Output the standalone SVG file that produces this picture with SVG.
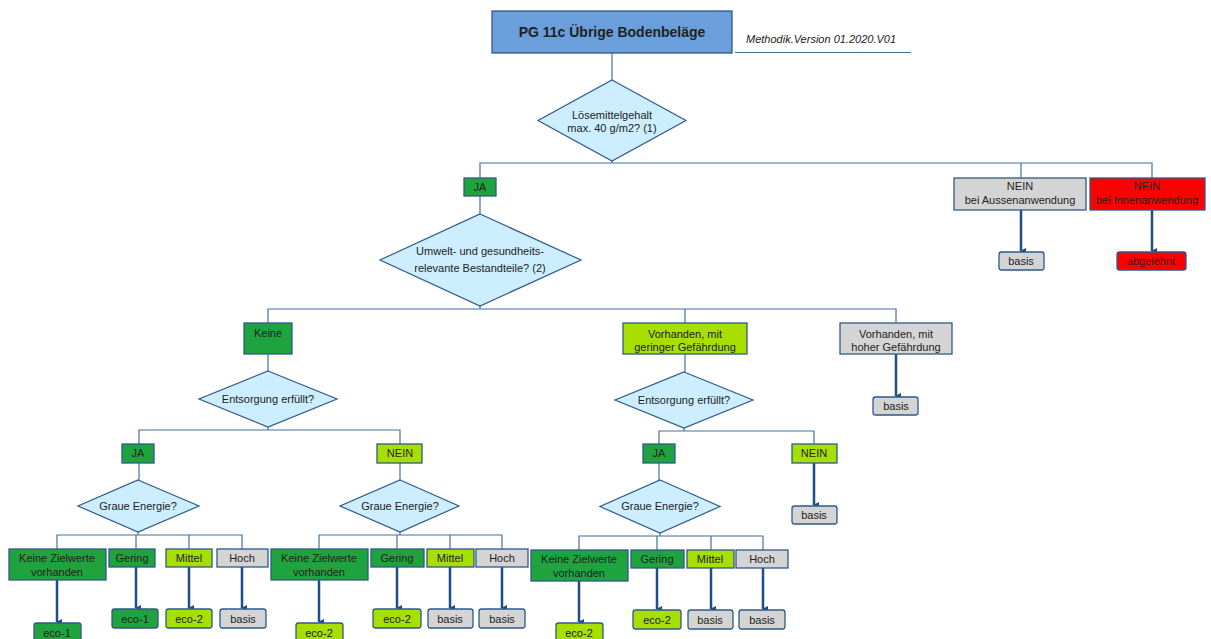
<svg xmlns="http://www.w3.org/2000/svg" width="1211" height="639" viewBox="0 0 1211 639">
<defs>
<marker id="ah" markerWidth="6" markerHeight="6" refX="3" refY="5" orient="auto" markerUnits="userSpaceOnUse" viewBox="0 0 6 6">
<path d="M0,0 L6,0 L3,6 z" fill="#1f4e8c"/>
</marker>
<style>
text{font-family:"Liberation Sans",Arial,sans-serif;font-size:11px;fill:#222;text-anchor:middle}
.box{stroke:#2e5a8c;stroke-width:1.3}
.dg{fill:#1fa33f}
.lg{fill:#a6df00}
.gr{fill:#d4d4d4}
.rd{fill:#ff0000}
.dia{fill:#cdeefe;stroke:#2e5a8c;stroke-width:1.2}
.ln{fill:none;stroke:#4470a0;stroke-width:1.2}
.ar{fill:none;stroke:#1f4e8c;stroke-width:2.5;marker-end:url(#ah)}
</style>
</defs>
<rect width="1211" height="639" fill="#fff"/>

<g id="connectors">
<path class="ln" d="M612,53 V80"/>
<path class="ln" d="M612,161 V163 M480,178 V163 H1152 V178 M1021,163 V178"/>
<path class="ln" d="M480,196 V214"/>
<path class="ln" d="M480,306 V309 M268,323 V309 H896 V323 M685,309 V323"/>
<path class="ln" d="M268,354 V371"/>
<path class="ln" d="M268,427 V430 M139,444 V430 H400 V444"/>
<path class="ln" d="M685,354 V372"/>
<path class="ln" d="M684,428 V431 M659,444 V431 H814 V444"/>
<path class="ln" d="M139,463 V480"/>
<path class="ln" d="M400,463 V480"/>
<path class="ln" d="M659,463 V480"/>
<path class="ln" d="M138,532 V535 M57,549 V535 H242 V549 M136,535 V549 M189,535 V549"/>
<path class="ln" d="M400,532 V535 M319,549 V535 H502 V549 M397,535 V549 M450,535 V549"/>
<path class="ln" d="M660,533 V536 M579,550 V536 H763 V550 M657,536 V550 M711,536 V550"/>
<path class="ar" d="M1021,210 V251"/>
<path class="ar" d="M1152,210 V251"/>
<path class="ar" d="M896,354 V396"/>
<path class="ar" d="M814,463 V505"/>
<path class="ar" d="M57,580 V622"/>
<path class="ar" d="M136,567 V608"/>
<path class="ar" d="M189,567 V608"/>
<path class="ar" d="M242,567 V608"/>
<path class="ar" d="M319,580 V622"/>
<path class="ar" d="M397,567 V608"/>
<path class="ar" d="M450,567 V608"/>
<path class="ar" d="M502,567 V608"/>
<path class="ar" d="M579,581 V622"/>
<path class="ar" d="M657,568 V609"/>
<path class="ar" d="M711,568 V609"/>
<path class="ar" d="M763,568 V609"/>
</g>

<g id="title">
<rect x="492" y="11" width="240" height="42" fill="#6a9fdb" stroke="#2e5a8c" stroke-width="1.3"/>
<text x="612" y="37" style="font-size:14px;font-weight:bold">PG 11c Übrige Bodenbeläge</text>
</g>
<g id="version">
<text x="746" y="43" style="font-style:italic;text-anchor:start">Methodik.Version 01.2020.V01</text>
<path d="M735,52.5 H911" stroke="#4470a0" stroke-width="1"/>
</g>

<g id="d1">
<polygon class="dia" points="612,80 686,120.5 612,161 538,120.5"/>
<text x="612" y="119">Lösemittelgehalt</text>
<text x="612" y="132">max. 40 g/m2? (1)</text>
</g>
<g id="ja1"><rect class="box dg" x="464" y="178" width="32" height="18"/><text x="480" y="191">JA</text></g>
<g id="nein-aussen"><rect class="box gr" x="954" y="178" width="132" height="32"/><text x="1020" y="190">NEIN</text><text x="1020" y="204">bei Aussenanwendung</text></g>
<g id="nein-innen"><rect class="box rd" x="1090" y="178" width="115" height="32"/><text x="1147" y="190">NEIN</text><text x="1147" y="204">bei Innenanwendung</text></g>
<g id="basis-aussen"><rect class="box gr" x="999" y="252" width="45" height="18" rx="2.5"/><text x="1021" y="265">basis</text></g>
<g id="abgelehnt"><rect class="box rd" x="1117" y="252" width="69" height="18" rx="2.5"/><text x="1151" y="265">abgelehnt</text></g>

<g id="d2">
<polygon class="dia" points="480,214 581,260 480,306 380,260"/>
<text x="480" y="255">Umwelt- und gesundheits-</text>
<text x="480" y="272">relevante Bestandteile? (2)</text>
</g>

<g id="keine"><rect class="box dg" x="244" y="323" width="48" height="31"/><text x="268" y="337">Keine</text></g>
<g id="geringer"><rect class="box lg" x="623" y="323" width="124" height="31"/><text x="685" y="338">Vorhanden, mit</text><text x="685" y="351">geringer Gefährdung</text></g>
<g id="hoher"><rect class="box gr" x="840" y="323" width="112" height="31"/><text x="896" y="338">Vorhanden, mit</text><text x="896" y="351">hoher Gefährdung</text></g>
<g id="basis-hoher"><rect class="box gr" x="873" y="397" width="45" height="18" rx="2.5"/><text x="896" y="410">basis</text></g>

<g id="d3">
<polygon class="dia" points="268,371 337,399 268,427 199,399"/>
<text x="268" y="403">Entsorgung erfüllt?</text>
</g>
<g id="d4">
<polygon class="dia" points="684,372 753,400 684,428 615,400"/>
<text x="684" y="404">Entsorgung erfüllt?</text>
</g>

<g id="ja-l"><rect class="box dg" x="122" y="444" width="32" height="19"/><text x="138" y="457">JA</text></g>
<g id="nein-l"><rect class="box lg" x="377" y="444" width="45" height="19"/><text x="400" y="457">NEIN</text></g>
<g id="ja-m"><rect class="box dg" x="643" y="444" width="32" height="19"/><text x="659" y="457">JA</text></g>
<g id="nein-m"><rect class="box lg" x="792" y="444" width="45" height="19"/><text x="814" y="457">NEIN</text></g>
<g id="basis-nein-m"><rect class="box gr" x="792" y="506" width="45" height="18" rx="2.5"/><text x="814" y="519">basis</text></g>

<g id="d5"><polygon class="dia" points="138,480 199,506 138,532 78,506"/><text x="138" y="510">Graue Energie?</text></g>
<g id="d6"><polygon class="dia" points="400,480 459,506 400,532 340,506"/><text x="400" y="510">Graue Energie?</text></g>
<g id="d7"><polygon class="dia" points="660,480 720,506.5 660,533 600,506.5"/><text x="660" y="510">Graue Energie?</text></g>

<g id="a-keine"><rect class="box dg" x="9" y="549" width="97" height="31"/><text x="57" y="562">Keine Zielwerte</text><text x="57" y="576">vorhanden</text></g>
<g id="a-gering"><rect class="box dg" x="109" y="549" width="46" height="18"/><text x="132" y="562">Gering</text></g>
<g id="a-mittel"><rect class="box lg" x="166" y="549" width="46" height="18"/><text x="189" y="562">Mittel</text></g>
<g id="a-hoch"><rect class="box gr" x="217" y="549" width="51" height="18"/><text x="242" y="562">Hoch</text></g>
<g id="a-r1"><rect class="box dg" x="34" y="623" width="47" height="19" rx="2.5"/><text x="57" y="637">eco-1</text></g>
<g id="a-r2"><rect class="box dg" x="112" y="609" width="46" height="19" rx="2.5"/><text x="135" y="623">eco-1</text></g>
<g id="a-r3"><rect class="box lg" x="166" y="609" width="46" height="19" rx="2.5"/><text x="189" y="623">eco-2</text></g>
<g id="a-r4"><rect class="box gr" x="220" y="609" width="46" height="19" rx="2.5"/><text x="243" y="623">basis</text></g>

<g id="b-keine"><rect class="box dg" x="271" y="549" width="97" height="31"/><text x="319" y="562">Keine Zielwerte</text><text x="319" y="576">vorhanden</text></g>
<g id="b-gering"><rect class="box dg" x="371" y="549" width="53" height="18"/><text x="397" y="562">Gering</text></g>
<g id="b-mittel"><rect class="box lg" x="427" y="549" width="47" height="18"/><text x="450" y="562">Mittel</text></g>
<g id="b-hoch"><rect class="box gr" x="476" y="549" width="52" height="18"/><text x="502" y="562">Hoch</text></g>
<g id="b-r1"><rect class="box lg" x="296" y="623" width="47" height="19" rx="2.5"/><text x="319" y="637">eco-2</text></g>
<g id="b-r2"><rect class="box lg" x="373" y="609" width="48" height="19" rx="2.5"/><text x="397" y="623">eco-2</text></g>
<g id="b-r3"><rect class="box gr" x="428" y="609" width="45" height="19" rx="2.5"/><text x="450" y="623">basis</text></g>
<g id="b-r4"><rect class="box gr" x="479" y="609" width="46" height="19" rx="2.5"/><text x="502" y="623">basis</text></g>

<g id="c-keine"><rect class="box dg" x="531" y="550" width="97" height="31"/><text x="579" y="563">Keine Zielwerte</text><text x="579" y="577">vorhanden</text></g>
<g id="c-gering"><rect class="box dg" x="631" y="550" width="53" height="18"/><text x="657" y="563">Gering</text></g>
<g id="c-mittel"><rect class="box lg" x="687" y="550" width="47" height="18"/><text x="710" y="563">Mittel</text></g>
<g id="c-hoch"><rect class="box gr" x="736" y="550" width="52" height="18"/><text x="762" y="563">Hoch</text></g>
<g id="c-r1"><rect class="box lg" x="556" y="623" width="47" height="19" rx="2.5"/><text x="579" y="637">eco-2</text></g>
<g id="c-r2"><rect class="box lg" x="633" y="610" width="48" height="19" rx="2.5"/><text x="657" y="624">eco-2</text></g>
<g id="c-r3"><rect class="box gr" x="688" y="610" width="45" height="19" rx="2.5"/><text x="710" y="624">basis</text></g>
<g id="c-r4"><rect class="box gr" x="739" y="610" width="46" height="19" rx="2.5"/><text x="762" y="624">basis</text></g>
</svg>
